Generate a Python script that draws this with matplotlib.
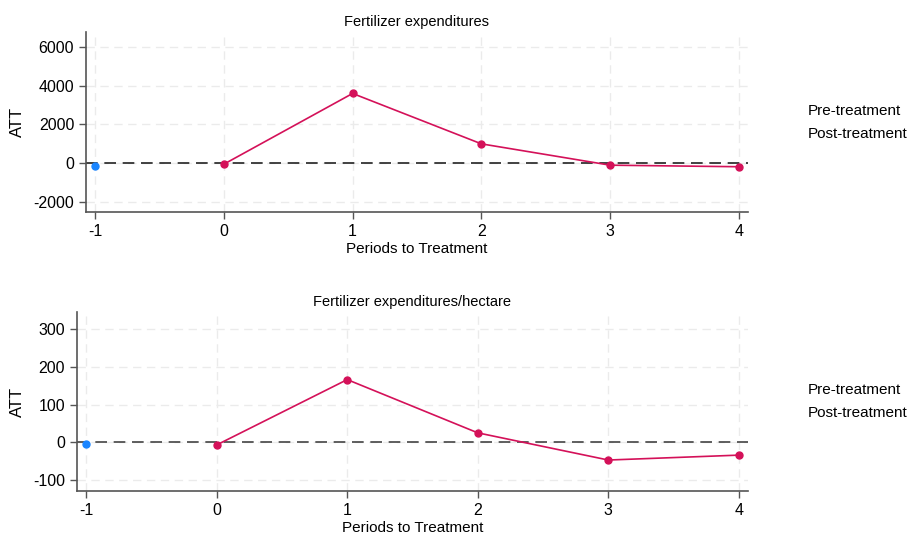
import matplotlib
matplotlib.use("Agg")
import matplotlib.pyplot as plt

periods = [-1, 0, 1, 2, 3, 4]
xticks = [-1, 0, 1, 2, 3, 4]

top_title = "Fertilizer expenditures"
top_pre = [-150]
top_post = [-50, 3600, 1000, -100, -180]
top_yticks = [-2000, 0, 2000, 4000, 6000]

bot_title = "Fertilizer expenditures/hectare"
bot_pre = [-4]
bot_post = [-7, 166, 25, -47, -34]
bot_yticks = [-100, 0, 100, 200, 300]

legend_labels = ["Pre-treatment", "Post-treatment"]

BLUE = "#1A85FF"
RED = "#D41159"

plt.rcParams['font.family'] = ['Liberation Sans', 'DejaVu Sans']
plt.rcParams['axes.unicode_minus'] = False

fig = plt.figure(figsize=(9.09, 5.35), dpi=100)
W, H = 909, 535

def make_ax(left, right, top, bottom):
    return fig.add_axes([left / W, 1 - bottom / H, (right - left) / W, (bottom - top) / H])

panels = [
    dict(ax=make_ax(86, 748, 32, 212), title=top_title, pre=top_pre, post=top_post,
         yticks=top_yticks, ylim=(-2515, 6770), leg_y=(111, 134), zc='#222222'),
    dict(ax=make_ax(77, 748, 312, 491), title=bot_title, pre=bot_pre, post=bot_post,
         yticks=bot_yticks, ylim=(-129, 345), leg_y=(390, 413), zc='#444444'),
]

for p in panels:
    ax = p['ax']
    ax.set_xlim(-1.07, 4.07)
    ax.set_ylim(*p['ylim'])
    ax.set_xticks(xticks)
    ax.set_yticks(p['yticks'])
    ax.grid(True, color='#ebebeb', linestyle=(0, (6, 4)), linewidth=1.0)
    ax.set_axisbelow(True)
    for s in ['top', 'right']:
        ax.spines[s].set_visible(False)
    for s in ['left', 'bottom']:
        ax.spines[s].set_color('#555555')
        ax.spines[s].set_linewidth(1.2)
    ax.tick_params(axis='both', colors='#555555', labelcolor='black', labelsize=11.5, length=5, width=1)
    ax.axhline(0, color=p['zc'], linestyle=(0, (7, 4)), linewidth=1.2, zorder=2)
    ax.plot(periods[:1], p['pre'], color=BLUE, marker='o', markersize=5, linewidth=1.2, zorder=3)
    ax.plot(periods[1:], p['post'], color=RED, marker='o', markersize=5, linewidth=1.2, zorder=3)
    ax.set_title(p['title'], fontsize=10.5, pad=4.5)
    ax.set_xlabel("Periods to Treatment", fontsize=11, labelpad=2.5)
    ax.set_ylabel("ATT", fontsize=12, labelpad=6)
    for lab, ly in zip(legend_labels, p['leg_y']):
        fig.text(808 / W, 1 - ly / H, lab, fontsize=11, va='center', ha='left')

fig.savefig("out.png", dpi=100, facecolor='white')
